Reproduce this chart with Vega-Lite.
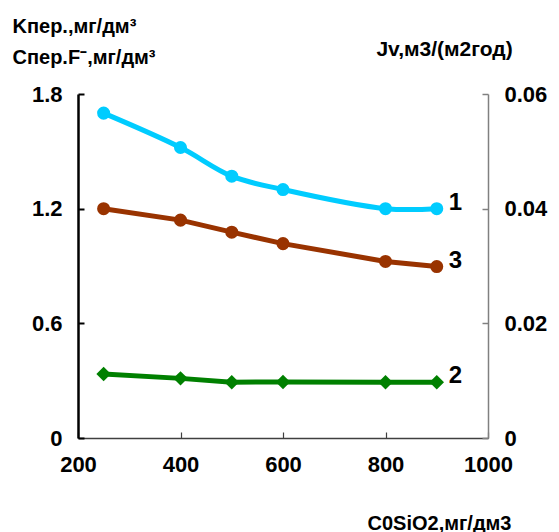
{
  "$schema": "https://vega.github.io/schema/vega-lite/v6.json",
  "width": 410,
  "height": 344,
  "autosize": {"type": "none"},
  "padding": {"left": 78, "top": 94, "right": 71, "bottom": 94},
  "background": "white",
  "config": {
    "view": {"stroke": null},
    "font": "Liberation Sans",
    "axis": {
      "labelFont": "Liberation Sans",
      "labelFontSize": 22,
      "labelFontWeight": "bold",
      "labelColor": "black",
      "labelFlush": false,
      "titleFont": "Liberation Sans",
      "titleFontWeight": "bold",
      "titleColor": "black",
      "grid": false,
      "tickSize": -6,
      "labelPadding": 22
    }
  },
  "data": {
    "values": [
      {"series": "1", "c0": 250, "value": 1.70},
      {"series": "1", "c0": 400, "value": 1.52},
      {"series": "1", "c0": 500, "value": 1.37},
      {"series": "1", "c0": 600, "value": 1.30},
      {"series": "1", "c0": 800, "value": 1.20},
      {"series": "1", "c0": 900, "value": 1.20},
      {"series": "2", "c0": 250, "value": 0.335},
      {"series": "2", "c0": 400, "value": 0.312},
      {"series": "2", "c0": 500, "value": 0.292},
      {"series": "2", "c0": 600, "value": 0.293},
      {"series": "2", "c0": 800, "value": 0.292},
      {"series": "2", "c0": 900, "value": 0.292},
      {"series": "3", "c0": 250, "value": 0.0400},
      {"series": "3", "c0": 400, "value": 0.0380},
      {"series": "3", "c0": 500, "value": 0.0359},
      {"series": "3", "c0": 600, "value": 0.0339},
      {"series": "3", "c0": 800, "value": 0.0308},
      {"series": "3", "c0": 900, "value": 0.0299}
    ]
  },
  "encoding": {
    "x": {
      "field": "c0",
      "type": "quantitative",
      "scale": {"domain": [200, 1000], "nice": false, "zero": false},
      "axis": {
        "values": [200, 400, 600, 800, 1000],
        "format": "d",
        "labelFlush": false,
        "domainColor": "#404040",
        "domainWidth": 1.5,
        "tickColor": "#404040",
        "tickWidth": 1.2,
        "title": "C0SiO2,мг/дм3",
        "titleFontSize": 20,
        "titleAlign": "center",
        "titleBaseline": "alphabetic",
        "titleX": 361,
        "titleY": 91
      }
    }
  },
  "layer": [
    {
      "encoding": {
        "y": {
          "field": "value",
          "type": "quantitative",
          "scale": {"domain": [0, 1.8], "nice": false},
          "axis": {
            "orient": "left",
            "values": [0, 0.6, 1.2, 1.8],
            "format": "~g",
            "labelFlush": false,
            "domainColor": "black",
            "domainWidth": 2.5,
            "tickColor": "black",
            "tickWidth": 2,
            "title": ["Kпер.,мг/дм³", "Cпер.F⁻,мг/дм³"],
            "titleFontSize": 20,
            "titleAngle": 0,
            "titleAlign": "left",
            "titleBaseline": "alphabetic",
            "titleLineHeight": 31,
            "titleX": -66,
            "titleY": -62
          }
        }
      },
      "layer": [
        {
          "transform": [{"filter": "datum.series == '1'"}],
          "mark": {
            "type": "line",
            "color": "#00CCFF",
            "strokeWidth": 5,
            "interpolate": "catmull-rom",
            "point": {"filled": true, "size": 170, "color": "#00CCFF", "opacity": 1}
          }
        },
        {
          "transform": [{"filter": "datum.series == '2'"}],
          "mark": {
            "type": "line",
            "color": "#008000",
            "strokeWidth": 5,
            "point": {"filled": true, "size": 210, "shape": "diamond", "color": "#008000", "opacity": 1}
          }
        },
        {
          "transform": [{"filter": "(datum.series == '1' || datum.series == '2') && datum.c0 == 900"}],
          "mark": {"type": "text", "align": "left", "baseline": "middle", "dx": 12, "dy": -6, "fontSize": 24, "fontWeight": "bold", "font": "Liberation Sans", "color": "black"},
          "encoding": {"text": {"field": "series"}}
        }
      ]
    },
    {
      "encoding": {
        "y": {
          "field": "value",
          "type": "quantitative",
          "scale": {"domain": [0, 0.06], "nice": false},
          "axis": {
            "orient": "right",
            "values": [0, 0.02, 0.04, 0.06],
            "format": "~g",
            "labelFlush": false,
            "domainColor": "#808080",
            "domainWidth": 1.5,
            "tickColor": "#808080",
            "tickWidth": 1.5,
            "title": "Jv,м3/(м2год)",
            "titleFontSize": 21,
            "titleAngle": 0,
            "titleAlign": "center",
            "titleBaseline": "alphabetic",
            "titleX": -44,
            "titleY": -39
          }
        }
      },
      "layer": [
        {
          "transform": [{"filter": "datum.series == '3'"}],
          "mark": {
            "type": "line",
            "color": "#993300",
            "strokeWidth": 5,
            "point": {"filled": true, "size": 170, "color": "#993300", "opacity": 1}
          }
        },
        {
          "transform": [{"filter": "datum.series == '3' && datum.c0 == 900"}],
          "mark": {"type": "text", "align": "left", "baseline": "middle", "dx": 12, "dy": -6, "fontSize": 24, "fontWeight": "bold", "font": "Liberation Sans", "color": "black"},
          "encoding": {"text": {"field": "series"}}
        }
      ]
    }
  ],
  "resolve": {"scale": {"y": "independent"}}
}
